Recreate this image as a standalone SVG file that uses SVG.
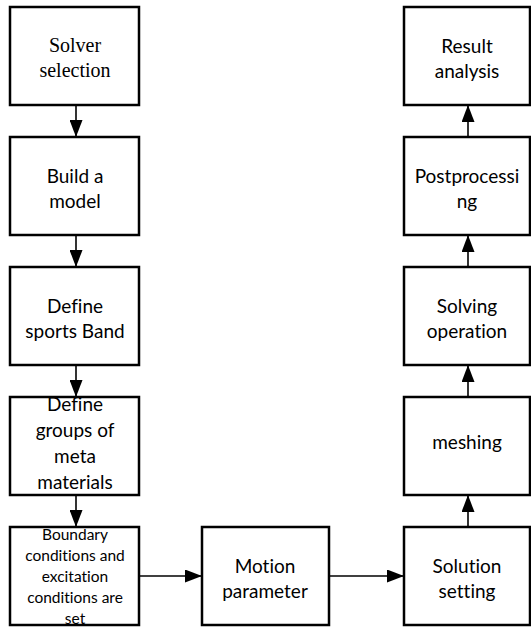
<svg xmlns="http://www.w3.org/2000/svg" width="531" height="627" viewBox="0 0 531 627">
<style>
.box{fill:#fff;stroke:#000;stroke-width:2.5}
.t{font-family:Lato,"Noto Sans","Liberation Sans",sans-serif;font-size:19px;fill:#000;text-anchor:middle;dominant-baseline:central;font-variant-ligatures:none}
.s{font-size:15.5px}
text.serif{font-family:"Liberation Serif","Times New Roman",serif;font-size:20px}
.c{stroke:#000;stroke-width:1.6;fill:none;marker-end:url(#ah)}
</style>
<defs>
<marker id="ah" markerWidth="17" markerHeight="13" refX="17" refY="6.5" viewBox="0 0 17 13" markerUnits="userSpaceOnUse" orient="auto">
<path d="M0,0 L17,6.5 L0,13 Z" fill="#000"/>
</marker>
</defs>
<rect width="531" height="627" fill="#fff"/>
<g id="connectors">
<line class="c" x1="76" y1="105" x2="76" y2="137"/>
<line class="c" x1="76" y1="235" x2="76" y2="267"/>
<line class="c" x1="76" y1="365" x2="76" y2="397"/>
<line class="c" x1="76" y1="495" x2="76" y2="527"/>
<line class="c" x1="139" y1="576" x2="202" y2="576"/>
<line class="c" x1="329" y1="576" x2="404" y2="576"/>
<line class="c" x1="468" y1="527" x2="468" y2="495"/>
<line class="c" x1="468" y1="397" x2="468" y2="365"/>
<line class="c" x1="468" y1="267" x2="468" y2="235"/>
<line class="c" x1="468" y1="137" x2="468" y2="105"/>
</g>
<g id="solver">
<rect class="box" x="10" y="7" width="129" height="98"/>
<text class="t serif" x="75" y="45" font-family="Liberation Serif, serif">Solver</text>
<text class="t serif" x="75" y="70" font-family="Liberation Serif, serif">selection</text>
</g>
<g id="build">
<rect class="box" x="10" y="137" width="129" height="98"/>
<text class="t" x="75" y="175">Build a</text>
<text class="t" x="75" y="200">model</text>
</g>
<g id="band">
<rect class="box" x="10" y="267" width="129" height="98"/>
<text class="t" x="75" y="305">Define</text>
<text class="t" x="75" y="330">sports Band</text>
</g>
<g id="groups">
<rect class="box" x="10" y="397" width="129" height="98"/>
<text class="t" x="75" y="403">Define</text>
<text class="t" x="75" y="429">groups of</text>
<text class="t" x="75" y="455">meta</text>
<text class="t" x="75" y="481">materials</text>
</g>
<g id="boundary">
<rect class="box" x="10" y="527" width="129" height="98"/>
<text class="t s" x="75" y="534">Boundary</text>
<text class="t s" x="75" y="555">conditions and</text>
<text class="t s" x="75" y="576">excitation</text>
<text class="t s" x="75" y="597">conditions are</text>
<text class="t s" x="75" y="618">set</text>
</g>
<g id="motion">
<rect class="box" x="202" y="527" width="127" height="98"/>
<text class="t" x="265" y="565">Motion</text>
<text class="t" x="265" y="590">parameter</text>
</g>
<g id="solution">
<rect class="box" x="404" y="527" width="126" height="98"/>
<text class="t" x="467" y="565">Solution</text>
<text class="t" x="467" y="590">setting</text>
</g>
<g id="meshing">
<rect class="box" x="404" y="397" width="126" height="98"/>
<text class="t" x="467" y="441">meshing</text>
</g>
<g id="solving">
<rect class="box" x="404" y="267" width="126" height="98"/>
<text class="t" x="467" y="305">Solving</text>
<text class="t" x="467" y="330">operation</text>
</g>
<g id="post">
<rect class="box" x="404" y="137" width="126" height="98"/>
<text class="t" x="467" y="175">Postprocessi</text>
<text class="t" x="467" y="200">ng</text>
</g>
<g id="result">
<rect class="box" x="404" y="7" width="126" height="98"/>
<text class="t" x="467" y="45">Result</text>
<text class="t" x="467" y="70">analysis</text>
</g>
</svg>
